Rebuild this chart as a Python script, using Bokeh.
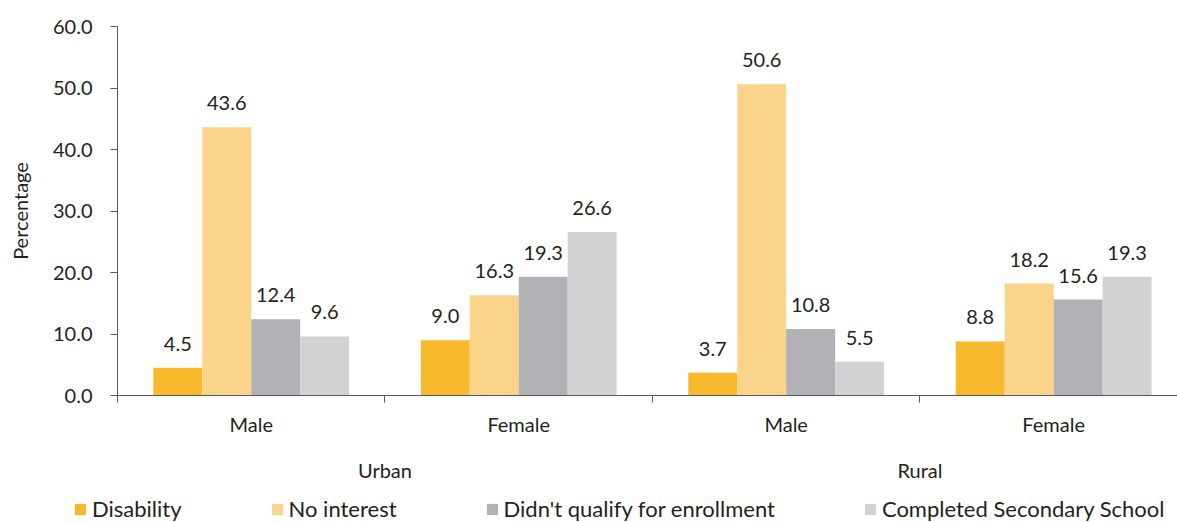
from bokeh.plotting import figure
from bokeh.models import (Range1d, FixedTicker, LinearAxis, NumeralTickFormatter,
                          Legend, LegendItem, ColumnDataSource)
from bokeh.core.properties import value
from bokeh.embed import file_html
from bokeh.resources import INLINE

# ---- data ----
areas = ["Urban", "Rural"]
sexes = ["Male", "Female"]
reasons = ["Disability", "No interest", "Didn't qualify for enrollment",
           "Completed Secondary School"]
# order: Urban-Male, Urban-Female, Rural-Male, Rural-Female
disability = [4.5, 9.0, 3.7, 8.8]
no_interest = [43.6, 16.3, 50.6, 18.2]
didnt_qualify = [12.4, 19.3, 10.8, 15.6]
completed = [9.6, 26.6, 5.5, 19.3]
y_ticks = [0, 10, 20, 30, 40, 50, 60]

series = [disability, no_interest, didnt_qualify, completed]
colors = ["#F8B92C", "#FAD48A", "#B1B2B5", "#D1D2D4"]

FONT = "Lato"
TXT = "#231F20"
AX = "#595959"

n_groups = len(areas) * len(sexes)
bar_w = 0.183

p = figure(width=1177, height=495, output_backend="svg", toolbar_location=None,
           x_range=Range1d(0, 3.963), y_range=Range1d(0, 60),
           min_border_left=117, min_border_right=0, min_border_top=26,
           min_border_bottom=100, outline_line_color=None,
           x_axis_location=None, y_axis_location=None)
p.xgrid.visible = False
p.ygrid.visible = False

sources = []
for j, (vals, col) in enumerate(zip(series, colors)):
    xs = [i + 0.5 + (j - 1.5) * bar_w for i in range(n_groups)]
    src = ColumnDataSource(dict(x=xs, top=vals, lab=["%.1f" % v for v in vals]))
    sources.append(src)
    p.vbar(x="x", top="top", bottom=0, width=bar_w, source=src,
           fill_color=col, line_color=None)
    p.text(x="x", y="top", text="lab", source=src, text_align="center",
           text_baseline="alphabetic", y_offset=-24,
           text_font=value(FONT), text_font_size="20px", text_color=TXT)

# y axis
yax = LinearAxis(ticker=FixedTicker(ticks=y_ticks, minor_ticks=[]),
                 formatter=NumeralTickFormatter(format="0.0"),
                 axis_label="Percentage")
yax.major_tick_out = 7
yax.major_tick_in = 0
yax.axis_line_color = AX
yax.major_tick_line_color = AX
yax.major_label_standoff = 18
yax.major_label_text_font = FONT
yax.major_label_text_font_size = "20px"
yax.major_label_text_color = TXT
yax.axis_label_text_font = FONT
yax.axis_label_text_font_size = "20px"
yax.axis_label_text_font_style = "normal"
yax.axis_label_text_color = TXT
yax.axis_label_standoff = 18
p.add_layout(yax, "left")

# x axis: sex labels at group centres, tick marks at group boundaries
centers = [i + 0.5 for i in range(n_groups)]
bounds = [i for i in range(n_groups + 1)]
sex_labels = sexes * len(areas)
xax = LinearAxis(ticker=FixedTicker(ticks=centers, minor_ticks=bounds))
xax.major_label_overrides = {c: s for c, s in zip(centers, sex_labels)}
xax.major_tick_line_color = None
xax.major_tick_out = 0
xax.major_tick_in = 0
xax.minor_tick_out = 7
xax.minor_tick_in = 0
xax.minor_tick_line_color = AX
xax.axis_line_color = AX
xax.major_label_standoff = 9
xax.major_label_text_font = FONT
xax.major_label_text_font_size = "20px"
xax.major_label_text_color = TXT
p.add_layout(xax, "below")

# x axis: area labels
area_centers = [len(sexes) * (k + 0.5) for k in range(len(areas))]
aax = LinearAxis(ticker=FixedTicker(ticks=area_centers, minor_ticks=[]))
aax.major_label_overrides = {c: a for c, a in zip(area_centers, areas)}
aax.major_tick_line_color = None
aax.major_tick_out = 0
aax.major_tick_in = 0
aax.minor_tick_line_color = None
aax.axis_line_color = None
aax.major_label_standoff = 19
aax.major_label_text_font = FONT
aax.major_label_text_font_size = "20px"
aax.major_label_text_color = TXT
p.add_layout(aax, "below")

# legend strip below the chart (separate root, so it may start left of the frame)
pl = figure(width=1177, height=27, output_backend="svg", toolbar_location=None,
            x_range=Range1d(-2, -1), y_range=Range1d(-2, -1), min_border=0,
            outline_line_color=None, x_axis_location=None, y_axis_location=None)
pl.xgrid.visible = False
pl.ygrid.visible = False
leg_items = []
for lab, col, src in zip(reasons, colors, sources):
    # bars kept outside this strip's ranges: only their legend swatch shows
    r = pl.vbar(x="x", top="top", bottom="top", width=0.01, source=src,
                fill_color=col, line_color=None)
    leg_items.append(LegendItem(label=lab, renderers=[r]))
legend = Legend(items=leg_items, orientation="horizontal", location=(73, 0),
                spacing=88, glyph_width=14, glyph_height=14, label_standoff=5,
                padding=0, margin=0, border_line_color=None,
                background_fill_alpha=0,
                label_text_font=FONT, label_text_font_size="22px",
                label_text_color=TXT)
pl.add_layout(legend, "center")

open("out.html", "w").write(file_html([p, pl], INLINE))
